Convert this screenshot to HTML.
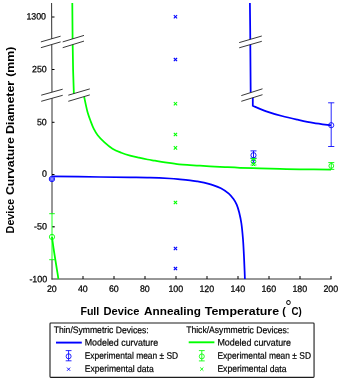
<!DOCTYPE html>
<html><head><meta charset="utf-8"><title>Device curvature chart</title>
<style>html,body{margin:0;padding:0;background:#fff;width:342px;height:381px;overflow:hidden}</style></head>
<body>
<svg width="342" height="381" viewBox="0 0 342 381" style="display:block;position:absolute;left:0;top:0">
<rect width="342" height="381" fill="#fff"/>
<path d="M51.6 3L52 100V279.5" stroke="#303030" stroke-width="1" fill="none"/>
<path d="M51.5 279H331.5" stroke="#303030" stroke-width="1" fill="none"/>
<path d="M52 17.0H54.5" stroke="#000" stroke-width="1"/>
<path d="M52 69.5H54.5" stroke="#000" stroke-width="1"/>
<path d="M52 122.3H54.5" stroke="#000" stroke-width="1"/>
<path d="M52 174.5H54.5" stroke="#000" stroke-width="1"/>
<path d="M52 226.8H54.5" stroke="#000" stroke-width="1"/>
<path d="M83.0 276V279" stroke="#000" stroke-width="1"/>
<path d="M114.0 276V279" stroke="#000" stroke-width="1"/>
<path d="M145.0 276V279" stroke="#000" stroke-width="1"/>
<path d="M176.0 276V279" stroke="#000" stroke-width="1"/>
<path d="M207.0 276V279" stroke="#000" stroke-width="1"/>
<path d="M238.0 276V279" stroke="#000" stroke-width="1"/>
<path d="M269.0 276V279" stroke="#000" stroke-width="1"/>
<path d="M300.0 276V279" stroke="#000" stroke-width="1"/>
<path d="M331.0 276V279" stroke="#000" stroke-width="1"/>
<path d="M72.3 3 L72.6 40 L73.1 70 L73.9 95" stroke="#00ff00" stroke-width="1.75" fill="none"/>
<path d="M84.0 96 C84.05 96.25 83.98 95.98 84.3 97.5 C84.62 99.02 85.32 102.52 85.9 105.1 C86.48 107.68 87.03 110.38 87.8 113 C88.57 115.62 89.52 118.18 90.5 120.8 C91.48 123.42 92.50 126.30 93.7 128.7 C94.90 131.10 95.90 132.92 97.7 135.2 C99.50 137.48 102.03 140.15 104.5 142.4 C106.97 144.65 109.70 146.98 112.5 148.7 C115.30 150.42 118.37 151.55 121.3 152.7 C124.23 153.85 127.17 154.77 130.1 155.6 C133.03 156.43 135.98 157.05 138.9 157.7 C141.82 158.35 144.92 159.00 147.6 159.5 C150.28 160.00 152.10 160.23 155 160.7 C157.90 161.17 160.97 161.70 165 162.3 C169.03 162.90 175.03 163.83 179.2 164.3 C183.37 164.77 186.53 164.87 190 165.1 C193.47 165.33 196.67 165.50 200 165.7 C203.33 165.90 205.83 166.07 210 166.3 C214.17 166.53 220.00 166.85 225 167.1 C230.00 167.35 234.17 167.58 240 167.8 C245.83 168.02 253.33 168.22 260 168.4 C266.67 168.58 273.33 168.75 280 168.9 C286.67 169.05 291.50 169.17 300 169.3 C308.50 169.43 325.83 169.63 331 169.7" stroke="#00ff00" stroke-width="1.75" fill="none" stroke-linejoin="round"/>
<path d="M52 176.4 C60.00 176.50 87.00 176.85 100 177.0 C113.00 177.15 121.67 177.20 130 177.3 C138.33 177.40 143.33 177.40 150 177.6 C156.67 177.80 165.00 178.22 170 178.5 C175.00 178.78 176.67 179.00 180 179.3 C183.33 179.60 187.17 179.97 190 180.3 C192.83 180.63 194.67 180.92 197 181.3 C199.33 181.68 201.58 182.03 204 182.6 C206.42 183.17 208.68 183.77 211.5 184.7 C214.32 185.63 218.02 186.72 220.9 188.2 C223.78 189.68 226.70 191.80 228.8 193.6 C230.90 195.40 232.18 197.17 233.5 199 C234.82 200.83 235.75 202.35 236.7 204.6 C237.65 206.85 238.42 209.35 239.2 212.5 C239.98 215.65 240.77 219.03 241.4 223.5 C242.03 227.97 242.58 234.05 243 239.3 C243.42 244.55 243.63 249.75 243.9 255 C244.17 260.25 244.43 266.80 244.6 270.8 C244.77 274.80 244.85 277.63 244.9 279" stroke="#0000ff" stroke-width="1.75" fill="none"/>
<path d="M249.9 3 L250.2 30 L250.5 70 L250.7 95" stroke="#0000ff" stroke-width="1.75" fill="none"/>
<path d="M252.8 96 L252.8 105.8  C255.05 106.72 261.45 109.60 266.3 111.3 C271.15 113.00 276.68 114.60 281.9 116 C287.12 117.40 292.38 118.55 297.6 119.7 C302.82 120.85 307.63 121.95 313.2 122.9 C318.77 123.85 328.03 124.98 331 125.4" stroke="#0000ff" stroke-width="1.75" fill="none" stroke-linejoin="miter"/>
<path d="M40.9 41.9L60.6 36.2L60.6 41.9L40.9 47.7Z" fill="#fff"/>
<path d="M40.9 41.9L60.6 36.2M40.9 47.7L60.6 41.9" stroke="#222" stroke-width="0.9" fill="none"/>
<path d="M62.7 41.9L84 35.4L84 41.1L62.7 47.7Z" fill="#fff"/>
<path d="M62.7 41.9L84 35.4M62.7 47.7L84 41.1" stroke="#222" stroke-width="0.9" fill="none"/>
<path d="M239.2 42.6L261.8 36.0L261.8 41.3L239.2 47.8Z" fill="#fff"/>
<path d="M239.2 42.6L261.8 36.0M239.2 47.8L261.8 41.3" stroke="#222" stroke-width="0.9" fill="none"/>
<path d="M41.2 95.2L62.7 89.2L62.7 95.3L41.2 101.3Z" fill="#fff"/>
<path d="M41.2 95.2L62.7 89.2M41.2 101.3L62.7 95.3" stroke="#222" stroke-width="0.9" fill="none"/>
<path d="M68.3 95.2L89.8 88.9L89.8 94.9L68.3 101.3Z" fill="#fff"/>
<path d="M68.3 95.2L89.8 88.9M68.3 101.3L89.8 94.9" stroke="#222" stroke-width="0.9" fill="none"/>
<path d="M241.3 95.6L262.5 88.8L262.5 94.7L241.3 101.3Z" fill="#fff"/>
<path d="M241.3 95.6L262.5 88.8M241.3 101.3L262.5 94.7" stroke="#222" stroke-width="0.9" fill="none"/>
<path d="M173.8 15.2L177.1 18.4M173.8 18.4L177.1 15.2" stroke="#0000ff" stroke-width="1.05" fill="none"/>
<path d="M173.8 58.0L177.1 61.2M173.8 61.2L177.1 58.0" stroke="#0000ff" stroke-width="1.05" fill="none"/>
<path d="M173.8 246.8L177.1 250.2M173.8 250.2L177.1 246.8" stroke="#0000ff" stroke-width="1.05" fill="none"/>
<path d="M173.8 267.0L177.1 270.2M173.8 270.2L177.1 267.0" stroke="#0000ff" stroke-width="1.05" fill="none"/>
<path d="M173.8 102.0L177.1 105.4M173.8 105.4L177.1 102.0" stroke="#00ff00" stroke-width="1.05" fill="none"/>
<path d="M173.8 132.9L177.1 136.2M173.8 136.2L177.1 132.9" stroke="#00ff00" stroke-width="1.05" fill="none"/>
<path d="M173.8 146.2L177.1 149.6M173.8 149.6L177.1 146.2" stroke="#00ff00" stroke-width="1.05" fill="none"/>
<path d="M173.8 200.8L177.1 204.2M173.8 204.2L177.1 200.8" stroke="#00ff00" stroke-width="1.05" fill="none"/>
<rect x="50.5" y="213.7" width="3" height="46" fill="#fff"/>
<path d="M52 226.8H54.5" stroke="#000" stroke-width="1"/>
<path d="M52 213.7V259.7M49.2 213.7H54.8M49.2 259.7H54.8" stroke="#00ff00" stroke-width="0.9" fill="none"/>
<circle cx="52" cy="236.9" r="2.6" stroke="#00ff00" stroke-width="0.9" fill="none"/>
<path d="M52 237 C52.25 238.83 52.95 244.25 53.5 248 C54.05 251.75 54.72 255.83 55.3 259.5 C55.88 263.17 56.48 266.75 57 270 C57.52 273.25 58.17 277.50 58.4 279" stroke="#00ff00" stroke-width="1.75" fill="none"/>
<circle cx="51.9" cy="179" r="2.7" fill="#5a5aff" stroke="#0000ff" stroke-width="0.8"/>
<path d="M50.4 177.5L53.4 180.5M50.4 180.5L53.4 177.5" stroke="#9a9aff" stroke-width="0.8" fill="none"/>
<path d="M253.5 150.9V158.2M250.5 150.9H256.5M250.5 158.2H256.5" stroke="#0000ff" stroke-width="0.9" fill="none"/>
<circle cx="253.5" cy="155.2" r="2.6" stroke="#0000ff" stroke-width="0.9" fill="none"/>
<path d="M253.5 158.4V165M250.5 158.4H256.5M250.5 165H256.5" stroke="#00ff00" stroke-width="0.9" fill="none"/>
<circle cx="253.5" cy="161.5" r="2.4" stroke="#00ff00" stroke-width="0.9" fill="none"/>
<path d="M252.0 159.9L255.0 162.9M252.0 162.9L255.0 159.9" stroke="#0000ff" stroke-width="0.9" fill="none"/>
<path d="M251.9 162.9L255.1 166.1M251.9 166.1L255.1 162.9" stroke="#00ff00" stroke-width="0.9" fill="none"/>
<path d="M331.2 102.8V146.5M328.09999999999997 102.8H334.3M328.09999999999997 146.5H334.3" stroke="#0000ff" stroke-width="0.85" fill="none"/>
<circle cx="331.2" cy="125.2" r="2.6" stroke="#0000ff" stroke-width="0.85" fill="none"/>
<path d="M331.3 162.6V169.4M328.3 162.6H334.3M328.3 169.4H334.3" stroke="#00ff00" stroke-width="0.9" fill="none"/>
<circle cx="331.3" cy="165.9" r="2.4" stroke="#00ff00" stroke-width="0.9" fill="none"/>
<text x="46.0" y="19.6" transform="rotate(0.2 46.0 19.6)" text-anchor="end" textLength="19.6" lengthAdjust="spacingAndGlyphs" style="font-family:'Liberation Sans',sans-serif;font-size:9.2px;fill:#000;stroke:#000;stroke-width:0.25px">1300</text>
<text x="46.7" y="72.3" transform="rotate(0.2 46.7 72.3)" text-anchor="end" textLength="14.7" lengthAdjust="spacingAndGlyphs" style="font-family:'Liberation Sans',sans-serif;font-size:9.2px;fill:#000;stroke:#000;stroke-width:0.25px">250</text>
<text x="46.7" y="125.2" transform="rotate(0.2 46.7 125.2)" text-anchor="end" textLength="9.8" lengthAdjust="spacingAndGlyphs" style="font-family:'Liberation Sans',sans-serif;font-size:9.2px;fill:#000;stroke:#000;stroke-width:0.25px">50</text>
<text x="47.0" y="176.7" transform="rotate(0.2 47.0 176.7)" text-anchor="end" textLength="4.9" lengthAdjust="spacingAndGlyphs" style="font-family:'Liberation Sans',sans-serif;font-size:9.2px;fill:#000;stroke:#000;stroke-width:0.25px">0</text>
<text x="47.0" y="229.6" transform="rotate(0.2 47.0 229.6)" text-anchor="end" textLength="12.9" lengthAdjust="spacingAndGlyphs" style="font-family:'Liberation Sans',sans-serif;font-size:9.2px;fill:#000;stroke:#000;stroke-width:0.25px">-50</text>
<text x="47.2" y="282.3" transform="rotate(0.2 47.2 282.3)" text-anchor="end" textLength="17.8" lengthAdjust="spacingAndGlyphs" style="font-family:'Liberation Sans',sans-serif;font-size:9.2px;fill:#000;stroke:#000;stroke-width:0.25px">-100</text>
<text x="51.8" y="291.9" transform="rotate(0.2 51.8 291.9)" text-anchor="middle" textLength="9.8" lengthAdjust="spacingAndGlyphs" style="font-family:'Liberation Sans',sans-serif;font-size:9.2px;fill:#000;stroke:#000;stroke-width:0.25px">20</text>
<text x="82.8" y="291.9" transform="rotate(0.2 82.8 291.9)" text-anchor="middle" textLength="9.8" lengthAdjust="spacingAndGlyphs" style="font-family:'Liberation Sans',sans-serif;font-size:9.2px;fill:#000;stroke:#000;stroke-width:0.25px">40</text>
<text x="113.8" y="291.9" transform="rotate(0.2 113.8 291.9)" text-anchor="middle" textLength="9.8" lengthAdjust="spacingAndGlyphs" style="font-family:'Liberation Sans',sans-serif;font-size:9.2px;fill:#000;stroke:#000;stroke-width:0.25px">60</text>
<text x="144.8" y="291.9" transform="rotate(0.2 144.8 291.9)" text-anchor="middle" textLength="9.8" lengthAdjust="spacingAndGlyphs" style="font-family:'Liberation Sans',sans-serif;font-size:9.2px;fill:#000;stroke:#000;stroke-width:0.25px">80</text>
<text x="175.8" y="291.9" transform="rotate(0.2 175.8 291.9)" text-anchor="middle" textLength="14.7" lengthAdjust="spacingAndGlyphs" style="font-family:'Liberation Sans',sans-serif;font-size:9.2px;fill:#000;stroke:#000;stroke-width:0.25px">100</text>
<text x="206.8" y="291.9" transform="rotate(0.2 206.8 291.9)" text-anchor="middle" textLength="14.7" lengthAdjust="spacingAndGlyphs" style="font-family:'Liberation Sans',sans-serif;font-size:9.2px;fill:#000;stroke:#000;stroke-width:0.25px">120</text>
<text x="237.8" y="291.9" transform="rotate(0.2 237.8 291.9)" text-anchor="middle" textLength="14.7" lengthAdjust="spacingAndGlyphs" style="font-family:'Liberation Sans',sans-serif;font-size:9.2px;fill:#000;stroke:#000;stroke-width:0.25px">140</text>
<text x="268.8" y="291.9" transform="rotate(0.2 268.8 291.9)" text-anchor="middle" textLength="14.7" lengthAdjust="spacingAndGlyphs" style="font-family:'Liberation Sans',sans-serif;font-size:9.2px;fill:#000;stroke:#000;stroke-width:0.25px">160</text>
<text x="299.8" y="291.9" transform="rotate(0.2 299.8 291.9)" text-anchor="middle" textLength="14.7" lengthAdjust="spacingAndGlyphs" style="font-family:'Liberation Sans',sans-serif;font-size:9.2px;fill:#000;stroke:#000;stroke-width:0.25px">180</text>
<text x="330.8" y="291.9" transform="rotate(0.2 330.8 291.9)" text-anchor="middle" textLength="14.7" lengthAdjust="spacingAndGlyphs" style="font-family:'Liberation Sans',sans-serif;font-size:9.2px;fill:#000;stroke:#000;stroke-width:0.25px">200</text>
<text x="80.4" y="314.8" textLength="18.9" lengthAdjust="spacingAndGlyphs" style="font-family:'Liberation Sans',sans-serif;font-size:11.3px;font-weight:bold;fill:#000">Full</text>
<text x="103.6" y="314.8" textLength="35.8" lengthAdjust="spacingAndGlyphs" style="font-family:'Liberation Sans',sans-serif;font-size:11.3px;font-weight:bold;fill:#000">Device</text>
<text x="144.1" y="314.8" textLength="56.8" lengthAdjust="spacingAndGlyphs" style="font-family:'Liberation Sans',sans-serif;font-size:11.3px;font-weight:bold;fill:#000">Annealing</text>
<text x="204.8" y="314.8" textLength="74.3" lengthAdjust="spacingAndGlyphs" style="font-family:'Liberation Sans',sans-serif;font-size:11.3px;font-weight:bold;fill:#000">Temperature</text>
<text x="282.3" y="314.8" textLength="3.5" lengthAdjust="spacingAndGlyphs" style="font-family:'Liberation Sans',sans-serif;font-size:11.3px;font-weight:bold;fill:#000">(</text>
<text x="288.5" y="312.4" text-anchor="middle" style="font-family:'Liberation Sans',sans-serif;font-size:16px;fill:#000">°</text>
<text x="291.6" y="314.8" textLength="10.2" lengthAdjust="spacingAndGlyphs" style="font-family:'Liberation Sans',sans-serif;font-size:11.3px;font-weight:bold;fill:#000">C)</text>
<g transform="translate(13.6 0) rotate(-90)">
<text x="-233.4" y="0" textLength="34.7" lengthAdjust="spacingAndGlyphs" style="font-family:'Liberation Sans',sans-serif;font-size:11.3px;font-weight:bold;fill:#000">Device</text>
<text x="-195" y="0" textLength="57.8" lengthAdjust="spacingAndGlyphs" style="font-family:'Liberation Sans',sans-serif;font-size:11.3px;font-weight:bold;fill:#000">Curvature</text>
<text x="-134" y="0" textLength="53.2" lengthAdjust="spacingAndGlyphs" style="font-family:'Liberation Sans',sans-serif;font-size:11.3px;font-weight:bold;fill:#000">Diameter</text>
<text x="-76.8" y="0" textLength="30.2" lengthAdjust="spacingAndGlyphs" style="font-family:'Liberation Sans',sans-serif;font-size:11.3px;font-weight:bold;fill:#000">(mm)</text>
</g>
<rect x="50" y="323" width="264.05" height="54.4" rx="0.8" fill="#fff" stroke="#1c1c1c" stroke-width="1.1"/>
<text x="53.7" y="333.0" transform="rotate(0.12 53.7 333.0)" textLength="95" lengthAdjust="spacingAndGlyphs" style="font-family:'Liberation Sans',sans-serif;font-size:9.4px;fill:#000;stroke:#000;stroke-width:0.2px">Thin/Symmetric Devices:</text>
<text x="84.7" y="345.6" transform="rotate(0.12 84.7 345.6)" textLength="73.5" lengthAdjust="spacingAndGlyphs" style="font-family:'Liberation Sans',sans-serif;font-size:9.4px;fill:#000;stroke:#000;stroke-width:0.2px">Modeled curvature</text>
<text x="84.7" y="358.7" transform="rotate(0.12 84.7 358.7)" textLength="93.5" lengthAdjust="spacingAndGlyphs" style="font-family:'Liberation Sans',sans-serif;font-size:9.4px;fill:#000;stroke:#000;stroke-width:0.2px">Experimental mean ± SD</text>
<text x="84.7" y="371.8" transform="rotate(0.12 84.7 371.8)" textLength="69" lengthAdjust="spacingAndGlyphs" style="font-family:'Liberation Sans',sans-serif;font-size:9.4px;fill:#000;stroke:#000;stroke-width:0.2px">Experimental data</text>
<text x="186.2" y="333.0" transform="rotate(0.12 186.2 333.0)" textLength="103" lengthAdjust="spacingAndGlyphs" style="font-family:'Liberation Sans',sans-serif;font-size:9.4px;fill:#000;stroke:#000;stroke-width:0.2px">Thick/Asymmetric Devices:</text>
<text x="217.4" y="345.6" transform="rotate(0.12 217.4 345.6)" textLength="73.6" lengthAdjust="spacingAndGlyphs" style="font-family:'Liberation Sans',sans-serif;font-size:9.4px;fill:#000;stroke:#000;stroke-width:0.2px">Modeled curvature</text>
<text x="217.4" y="358.7" transform="rotate(0.12 217.4 358.7)" textLength="93.6" lengthAdjust="spacingAndGlyphs" style="font-family:'Liberation Sans',sans-serif;font-size:9.4px;fill:#000;stroke:#000;stroke-width:0.2px">Experimental mean ± SD</text>
<text x="217.4" y="371.8" transform="rotate(0.12 217.4 371.8)" textLength="69.1" lengthAdjust="spacingAndGlyphs" style="font-family:'Liberation Sans',sans-serif;font-size:9.4px;fill:#000;stroke:#000;stroke-width:0.2px">Experimental data</text>
<path d="M56 342.6H81.8" stroke="#0000ff" stroke-width="1.9"/>
<path d="M188.7 342.3H214.4" stroke="#00ff00" stroke-width="1.9"/>
<path d="M68.6 350.6V360.8M65.69999999999999 350.6H71.5M65.69999999999999 360.8H71.5" stroke="#0000ff" stroke-width="0.85" fill="none"/>
<circle cx="68.6" cy="356.3" r="2.5" stroke="#0000ff" stroke-width="0.85" fill="none"/>
<path d="M201.8 350.6V360.9M198.9 350.6H204.70000000000002M198.9 360.9H204.70000000000002" stroke="#00ff00" stroke-width="0.85" fill="none"/>
<circle cx="201.8" cy="356.4" r="2.5" stroke="#00ff00" stroke-width="0.85" fill="none"/>
<path d="M67.0 367.6L70.2 370.8M67.0 370.8L70.2 367.6" stroke="#0000ff" stroke-width="0.9" fill="none"/>
<path d="M200.2 367.5L203.4 370.7M200.2 370.7L203.4 367.5" stroke="#00ff00" stroke-width="0.9" fill="none"/>
</svg>
</body></html>
